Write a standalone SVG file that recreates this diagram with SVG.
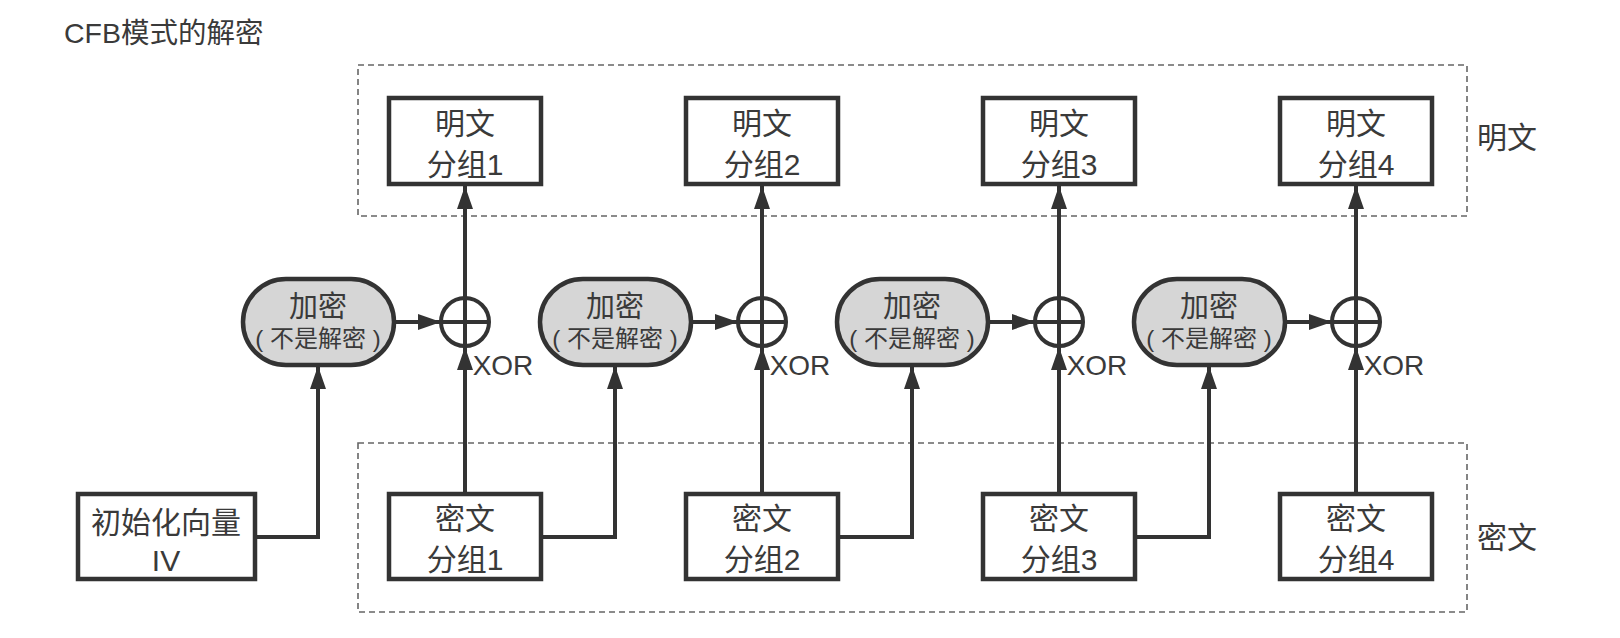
<svg xmlns="http://www.w3.org/2000/svg" width="1620" height="638" viewBox="0 0 1620 638">
<defs>
<marker id="ah" viewBox="0 0 23 16" refX="23" refY="8" markerWidth="23" markerHeight="16" markerUnits="userSpaceOnUse" orient="auto">
<path d="M0,0 L23,8 L0,16 Z" fill="#333"/>
</marker>
<style>
.t{font-family:"Liberation Sans","Noto Sans CJK SC",sans-serif;fill:#3a3a3a;text-anchor:middle}
.box{fill:#fff;stroke:#333;stroke-width:4.5}
.enc{fill:#d6d6d6;stroke:#333;stroke-width:4.5}
.xor{fill:none;stroke:#333;stroke-width:4}
.dash{fill:none;stroke:#666;stroke-width:1.6;stroke-dasharray:6 4}
.ln{fill:none;stroke:#333;stroke-width:4}
.m{font-size:30px}
.e{font-size:29px}
.s{font-size:24px}
.x{font-size:28px}
</style>
</defs>
<rect width="1620" height="638" fill="#fff"/>
<text x="64" y="43" style="font-family:'Liberation Sans','Noto Sans CJK SC',sans-serif;fill:#3a3a3a;font-size:28.5px">CFB模式的解密</text>

<g id="groups">
<rect id="plain-area" class="dash" x="358" y="65" width="1109" height="151"/>
<rect id="cipher-area" class="dash" x="358" y="443" width="1109" height="169"/>
<text class="t m" x="1507" y="148">明文</text>
<text class="t m" x="1507" y="548">密文</text>
</g>

<g id="connectors">
<line class="ln" x1="465" y1="298" x2="465" y2="186" marker-end="url(#ah)"/>
<line class="ln" x1="762" y1="298" x2="762" y2="186" marker-end="url(#ah)"/>
<line class="ln" x1="1059" y1="298" x2="1059" y2="186" marker-end="url(#ah)"/>
<line class="ln" x1="1356" y1="298" x2="1356" y2="186" marker-end="url(#ah)"/>
<line class="ln" x1="465" y1="492" x2="465" y2="347" marker-end="url(#ah)"/>
<line class="ln" x1="762" y1="492" x2="762" y2="347" marker-end="url(#ah)"/>
<line class="ln" x1="1059" y1="492" x2="1059" y2="347" marker-end="url(#ah)"/>
<line class="ln" x1="1356" y1="492" x2="1356" y2="347" marker-end="url(#ah)"/>
<line class="ln" x1="395" y1="322" x2="441" y2="322" marker-end="url(#ah)"/>
<line class="ln" x1="692" y1="322" x2="738" y2="322" marker-end="url(#ah)"/>
<line class="ln" x1="989" y1="322" x2="1035" y2="322" marker-end="url(#ah)"/>
<line class="ln" x1="1286" y1="322" x2="1332" y2="322" marker-end="url(#ah)"/>
<path class="ln" d="M256,537 H318 V366" marker-end="url(#ah)"/>
<path class="ln" d="M542,537 H615 V366" marker-end="url(#ah)"/>
<path class="ln" d="M839,537 H912 V366" marker-end="url(#ah)"/>
<path class="ln" d="M1136,537 H1209 V366" marker-end="url(#ah)"/>
</g>

<g id="xor1"><circle class="xor" cx="465" cy="322" r="24"/><path class="xor" d="M441,322 H489 M465,298 V346"/><text class="t x" x="503" y="375">XOR</text></g>
<g id="xor2"><circle class="xor" cx="762" cy="322" r="24"/><path class="xor" d="M738,322 H786 M762,298 V346"/><text class="t x" x="800" y="375">XOR</text></g>
<g id="xor3"><circle class="xor" cx="1059" cy="322" r="24"/><path class="xor" d="M1035,322 H1083 M1059,298 V346"/><text class="t x" x="1097" y="375">XOR</text></g>
<g id="xor4"><circle class="xor" cx="1356" cy="322" r="24"/><path class="xor" d="M1332,322 H1380 M1356,298 V346"/><text class="t x" x="1394" y="375">XOR</text></g>

<g id="enc1"><rect class="enc" x="243" y="279" width="151" height="86" rx="43"/><text class="t e" x="318" y="317">加密</text><text class="t s" x="318" y="347">( 不是解密 )</text></g>
<g id="enc2"><rect class="enc" x="540" y="279" width="151" height="86" rx="43"/><text class="t e" x="615" y="317">加密</text><text class="t s" x="615" y="347">( 不是解密 )</text></g>
<g id="enc3"><rect class="enc" x="837" y="279" width="151" height="86" rx="43"/><text class="t e" x="912" y="317">加密</text><text class="t s" x="912" y="347">( 不是解密 )</text></g>
<g id="enc4"><rect class="enc" x="1134" y="279" width="151" height="86" rx="43"/><text class="t e" x="1209" y="317">加密</text><text class="t s" x="1209" y="347">( 不是解密 )</text></g>

<g id="p1"><rect class="box" x="389" y="98" width="152" height="86"/><text class="t m" x="465" y="134">明文</text><text class="t m" x="465" y="175">分组1</text></g>
<g id="p2"><rect class="box" x="686" y="98" width="152" height="86"/><text class="t m" x="762" y="134">明文</text><text class="t m" x="762" y="175">分组2</text></g>
<g id="p3"><rect class="box" x="983" y="98" width="152" height="86"/><text class="t m" x="1059" y="134">明文</text><text class="t m" x="1059" y="175">分组3</text></g>
<g id="p4"><rect class="box" x="1280" y="98" width="152" height="86"/><text class="t m" x="1356" y="134">明文</text><text class="t m" x="1356" y="175">分组4</text></g>

<g id="iv"><rect class="box" x="78" y="494" width="177" height="85"/><text class="t m" x="166" y="533">初始化向量</text><text class="t m" x="166" y="571">IV</text></g>
<g id="c1"><rect class="box" x="389" y="494" width="152" height="85"/><text class="t m" x="465" y="529">密文</text><text class="t m" x="465" y="570">分组1</text></g>
<g id="c2"><rect class="box" x="686" y="494" width="152" height="85"/><text class="t m" x="762" y="529">密文</text><text class="t m" x="762" y="570">分组2</text></g>
<g id="c3"><rect class="box" x="983" y="494" width="152" height="85"/><text class="t m" x="1059" y="529">密文</text><text class="t m" x="1059" y="570">分组3</text></g>
<g id="c4"><rect class="box" x="1280" y="494" width="152" height="85"/><text class="t m" x="1356" y="529">密文</text><text class="t m" x="1356" y="570">分组4</text></g>
</svg>
